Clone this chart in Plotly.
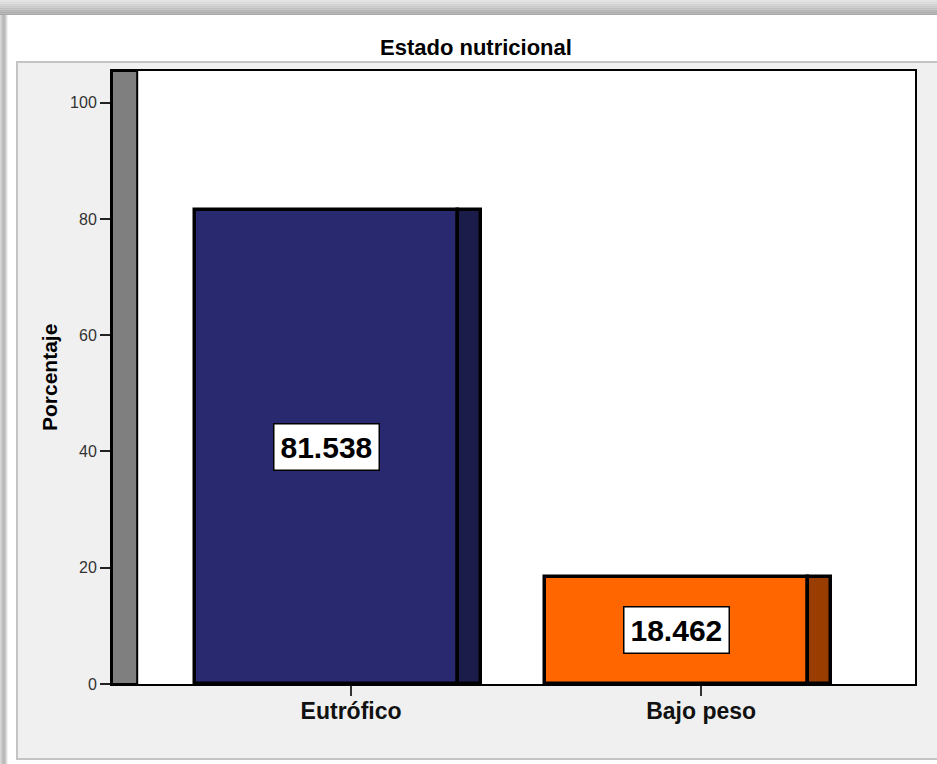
import plotly.graph_objects as go

# Estado nutricional: percentage per category
categories = ["Eutrófico", "Bajo peso"]
porcentaje = [81.538, 18.462]
front_colors = ["#29296F", "#FF6600"]
side_colors = ["#1C1C4A", "#993D00"]
y_ticks = [0, 20, 40, 60, 80, 100]

W, H = 937, 764
ML, MR, MT, MB = 112, 22, 71, 80
PW, PH = W - ML - MR, H - MT - MB

FONT = "Liberation Sans, Arial, Helvetica, sans-serif"


def px(xp):
    """Horizontal pixel -> paper coordinate."""
    return (xp - ML) / PW


def py(yp):
    """Vertical pixel (from top) -> paper coordinate."""
    return (H - MB - yp) / PH


xpos = list(range(len(categories)))

# bar geometry in category units (oblique 3D look: front face + darker side face)
FRONT_OFF, FRONT_W = -0.4457, 0.7514
SIDE_OFF, SIDE_W = FRONT_OFF + FRONT_W, 0.0657

fig = go.Figure()
fig.add_trace(go.Bar(
    x=xpos, y=porcentaje, offset=FRONT_OFF, width=FRONT_W,
    marker=dict(color=front_colors, line=dict(color="black", width=3.5)),
    hoverinfo="skip",
))
fig.add_trace(go.Bar(
    x=xpos, y=porcentaje, offset=SIDE_OFF, width=SIDE_W,
    marker=dict(color=side_colors, line=dict(color="black", width=3.5)),
    hoverinfo="skip",
))

shapes = []

# window-style frame: gradient strip on top and left edge
top_band = ["#e4e4e4", "#dcdcdc", "#d2d2d2", "#c8c8c8", "#bebebe", "#b4b4b4", "#acacac", "#a8a8a8"]
step = 15 / len(top_band)
for i, c in enumerate(top_band):
    shapes.append(dict(type="rect", xref="paper", yref="paper", layer="below",
                       x0=px(0), x1=px(W + 5), y0=py(i * step), y1=py((i + 1) * step),
                       fillcolor=c, line=dict(width=0)))
left_band = ["#d8d8d8", "#cccccc", "#c0c0c0", "#b8b8b8", "#bcbcbc", "#c8c8c8", "#dedede", "#f2f2f2"]
for i, c in enumerate(left_band):
    shapes.append(dict(type="rect", xref="paper", yref="paper", layer="below",
                       x0=px(i), x1=px(i + 1), y0=py(15), y1=py(H + 5),
                       fillcolor=c, line=dict(width=0)))

# light grey chart panel
shapes.append(dict(type="rect", xref="paper", yref="paper", layer="below",
                   x0=px(17), x1=px(W + 10), y0=py(62), y1=py(759),
                   fillcolor="#F0F0F0", line=dict(color="#C4C4C4", width=2)))

# white data area on top of the panel
shapes.append(dict(type="rect", xref="paper", yref="paper", layer="below",
                   x0=0, x1=1, y0=0, y1=1,
                   fillcolor="white", line=dict(width=0)))

# grey back wall on the left side of the plot
shapes.append(dict(type="rect", xref="x", yref="paper", layer="below",
                   x0=-0.683, x1=-0.611, y0=0, y1=1,
                   fillcolor="#7F7F7F", line=dict(color="black", width=2)))

annotations = []
# value labels on the bars
for xi, v in zip(xpos, porcentaje):
    annotations.append(dict(
        x=xi + FRONT_OFF + FRONT_W / 2, y=v / 2, xref="x", yref="y",
        text=f"<b>{v:.3f}</b>", showarrow=False,
        font=dict(family=FONT, size=30, color="black"),
        bgcolor="white", bordercolor="black", borderwidth=1.5, borderpad=6,
        xanchor="center", yanchor="middle",
    ))

# chart title
annotations.append(dict(
    x=px(476), y=py(48), xref="paper", yref="paper",
    text="<b>Estado nutricional</b>", showarrow=False,
    font=dict(family=FONT, size=22, color="black"),
    xanchor="center", yanchor="middle",
))

# y axis title
annotations.append(dict(
    x=px(49.5), y=0.5, xref="paper", yref="paper",
    text="<b>Porcentaje</b>", showarrow=False, textangle=-90,
    font=dict(family=FONT, size=21, color="black"),
    xanchor="center", yanchor="middle",
))

fig.update_layout(
    width=W, height=H,
    margin=dict(l=ML, r=MR, t=MT, b=MB, pad=0),
    paper_bgcolor="white", plot_bgcolor="white",
    barmode="overlay", bargap=0, showlegend=False,
    shapes=shapes, annotations=annotations,
    font=dict(family=FONT),
)
fig.update_xaxes(
    range=[-0.683, 1.611], tickvals=xpos,
    ticktext=[f"<b>{c}</b>" for c in categories],
    tickfont=dict(family=FONT, size=23, color="#111"),
    ticks="outside", ticklen=10, tickwidth=1.5, tickcolor="#333",
    ticklabelstandoff=-5,
    showline=True, linecolor="black", linewidth=2, mirror=True,
    showgrid=False, zeroline=False, fixedrange=True,
)
fig.update_yaxes(
    range=[0, 105.45], tickvals=y_ticks,
    tickfont=dict(family=FONT, size=16, color="#333"),
    ticks="outside", ticklen=10, tickwidth=1.5, tickcolor="#222",
    showline=True, linecolor="black", linewidth=2, mirror=True,
    showgrid=False, zeroline=False, fixedrange=True,
)

fig.write_html("out.html")
